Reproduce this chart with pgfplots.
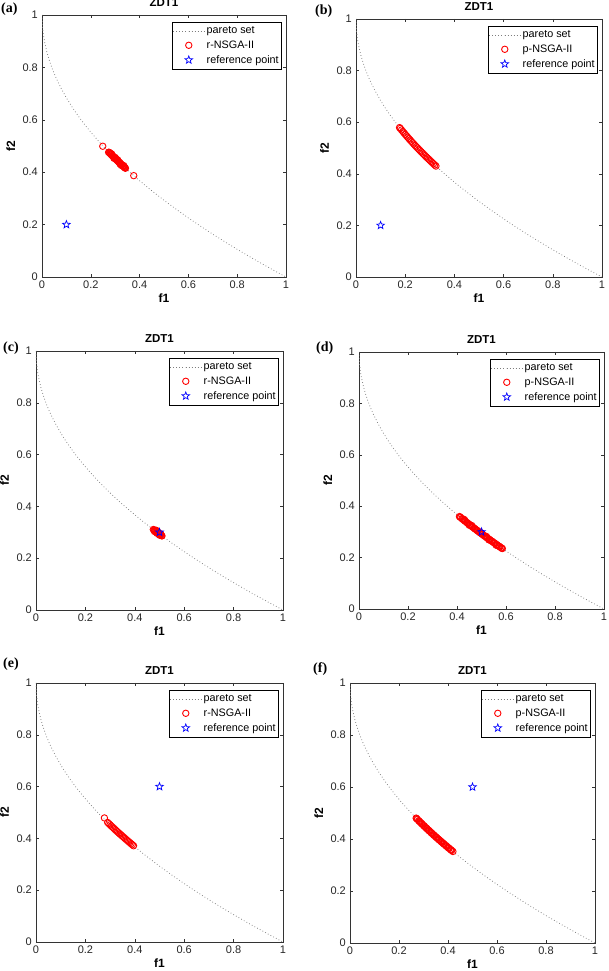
\documentclass[border=0pt]{standalone}
\usepackage{fontspec}
\setmainfont{Liberation Sans}
\newfontfamily\serifb{Liberation Serif}
\usepackage{pgfplots}
\usepackage{pgfplotstable}
\pgfplotsset{compat=1.18}

\definecolor{paretogray}{RGB}{125,125,125}

\pgfdeclareplotmark{pentagram}{%
  \pgfpathmoveto{\pgfpointpolar{90}{\pgfplotmarksize}}%
  \pgfpathlineto{\pgfpointpolar{126}{0.42\pgfplotmarksize}}%
  \pgfpathlineto{\pgfpointpolar{162}{\pgfplotmarksize}}%
  \pgfpathlineto{\pgfpointpolar{198}{0.42\pgfplotmarksize}}%
  \pgfpathlineto{\pgfpointpolar{234}{\pgfplotmarksize}}%
  \pgfpathlineto{\pgfpointpolar{270}{0.42\pgfplotmarksize}}%
  \pgfpathlineto{\pgfpointpolar{306}{\pgfplotmarksize}}%
  \pgfpathlineto{\pgfpointpolar{342}{0.42\pgfplotmarksize}}%
  \pgfpathlineto{\pgfpointpolar{18}{\pgfplotmarksize}}%
  \pgfpathlineto{\pgfpointpolar{54}{0.42\pgfplotmarksize}}%
  \pgfpathclose
  \pgfusepathqstroke
}

\pgfplotstableread{
x y
0 1
0.001 0.9684
0.0025 0.95
0.005 0.9293
0.01 0.9
0.02 0.8586
0.03 0.8268
0.04 0.8
0.05 0.7764
0.06 0.7551
0.08 0.7172
0.10 0.6838
0.12 0.6536
0.14 0.6258
0.16 0.6
0.18 0.5757
0.20 0.5528
0.22 0.5310
0.24 0.5101
0.26 0.4901
0.28 0.4708
0.30 0.4523
0.32 0.4343
0.34 0.4169
0.36 0.4
0.38 0.3836
0.40 0.3675
0.42 0.3519
0.44 0.3367
0.46 0.3218
0.48 0.3072
0.50 0.2929
0.55 0.2584
0.60 0.2254
0.65 0.1938
0.70 0.1633
0.75 0.1340
0.80 0.1056
0.85 0.0780
0.90 0.0513
0.95 0.0253
1.0 0
}\pareto

\pgfplotstableread{
x y
0.249 0.4990
0.376 0.3868
0.273 0.4760
0.275 0.4756
0.2775 0.4732
0.278 0.4735
0.28 0.4708
0.2825 0.4685
0.285 0.4661
0.285 0.4700
0.2875 0.4638
0.288 0.4640
0.29 0.4615
0.2925 0.4592
0.295 0.4569
0.295 0.4530
0.2975 0.4546
0.30 0.4523
0.30 0.4560
0.3025 0.4500
0.302 0.4510
0.305 0.4477
0.3075 0.4455
0.31 0.4432
0.31 0.4470
0.3125 0.4410
0.315 0.4388
0.3175 0.4366
0.318 0.4365
0.32 0.4343
0.32 0.4310
0.3225 0.4321
0.325 0.4299
0.325 0.4260
0.3275 0.4277
0.33 0.4255
0.3325 0.4234
0.332 0.4240
0.335 0.4212
0.335 0.4250
0.3375 0.4191
0.338 0.4185
0.34 0.4169
0.342 0.4150
}\dataA

\pgfplotstableread{
x y
0.177 0.5790
0.18 0.5757
0.185 0.5699
0.19 0.5641
0.195 0.5584
0.20 0.5528
0.205 0.5472
0.21 0.5417
0.215 0.5363
0.22 0.5310
0.225 0.5257
0.23 0.5204
0.235 0.5152
0.24 0.5101
0.245 0.5050
0.25 0.5
0.255 0.4950
0.26 0.4901
0.265 0.4852
0.27 0.4804
0.275 0.4756
0.28 0.4708
0.285 0.4661
0.29 0.4615
0.295 0.4569
0.30 0.4523
0.305 0.4477
0.31 0.4432
0.315 0.4388
0.32 0.4343
0.325 0.4299
}\dataB

\pgfplotstableread{
x y
0.475 0.3108
0.478 0.3090
0.48 0.3072
0.482 0.3060
0.485 0.3036
0.488 0.3020
0.49 0.3000
0.493 0.2980
0.495 0.2964
0.498 0.2945
0.50 0.2929
0.503 0.2910
0.505 0.2894
0.508 0.2875
0.51 0.2859
0.48 0.3030
0.486 0.3080
0.49 0.2960
0.50 0.2890
0.495 0.3000
0.505 0.2940
}\dataC

\pgfplotstableread{
x y
0.41 0.3597
0.4125 0.3578
0.415 0.3558
0.42 0.3519
0.4225 0.3500
0.425 0.3481
0.43 0.3443
0.43 0.3480
0.4325 0.3424
0.435 0.3405
0.44 0.3367
0.4425 0.3348
0.445 0.3329
0.45 0.3292
0.45 0.3260
0.4525 0.3274
0.455 0.3255
0.46 0.3218
0.46 0.3250
0.4625 0.3200
0.465 0.3181
0.47 0.3144
0.4725 0.3126
0.475 0.3108
0.48 0.3072
0.4825 0.3054
0.485 0.3036
0.49 0.3000
0.4925 0.2982
0.495 0.2964
0.50 0.2929
0.50 0.2960
0.5025 0.2912
0.505 0.2894
0.51 0.2859
0.5125 0.2842
0.515 0.2824
0.52 0.2789
0.52 0.2820
0.5225 0.2772
0.525 0.2754
0.53 0.2720
0.53 0.2690
0.5325 0.2703
0.535 0.2686
0.54 0.2652
0.5425 0.2635
0.545 0.2618
0.55 0.2584
0.5525 0.2567
0.555 0.2550
0.56 0.2517
0.56 0.2480
0.5625 0.2500
0.565 0.2483
0.57 0.2450
0.5725 0.2434
0.575 0.2417
0.58 0.2384
0.5825 0.2368
0.585 0.2352
}\dataD

\pgfplotstableread{
x y
0.277 0.4790
0.29 0.4615
0.295 0.4569
0.30 0.4523
0.305 0.4477
0.31 0.4432
0.315 0.4388
0.32 0.4343
0.325 0.4299
0.33 0.4255
0.335 0.4212
0.34 0.4169
0.345 0.4126
0.35 0.4084
0.355 0.4042
0.36 0.4000
0.365 0.3958
0.37 0.3917
0.375 0.3876
0.38 0.3836
0.385 0.3795
0.39 0.3755
0.395 0.3715
}\dataE

\pgfplotstableread{
x y
0.27 0.4804
0.2725 0.4780
0.275 0.4756
0.28 0.4708
0.2825 0.4685
0.285 0.4661
0.29 0.4615
0.2925 0.4592
0.295 0.4569
0.30 0.4523
0.3025 0.4500
0.305 0.4477
0.31 0.4432
0.3125 0.4410
0.315 0.4388
0.32 0.4343
0.3225 0.4321
0.325 0.4299
0.33 0.4255
0.3325 0.4234
0.335 0.4212
0.34 0.4169
0.3425 0.4148
0.345 0.4126
0.35 0.4084
0.3525 0.4063
0.355 0.4042
0.36 0.4000
0.3625 0.3979
0.365 0.3958
0.37 0.3917
0.3725 0.3897
0.375 0.3876
0.38 0.3836
0.3825 0.3816
0.385 0.3795
0.39 0.3755
0.3925 0.3735
0.395 0.3715
0.40 0.3675
0.4025 0.3656
0.405 0.3636
0.41 0.3597
0.4125 0.3578
0.415 0.3558
0.42 0.3519
}\dataF

\pgfplotsset{
  zdt/.style={
    scale only axis, anchor=south west,
    xmin=0, xmax=1, ymin=0, ymax=1,
    xtick={0,0.2,0.4,0.6,0.8,1}, ytick={0,0.2,0.4,0.6,0.8,1},
    tick align=inside, major tick length=3pt,
    axis line style={black!80, line width=0.6pt},
    every tick/.style={black!80, line width=0.5pt},
    /pgf/number format/assume math mode=true,
    ticklabel style={font=\fontsize{11}{13}\selectfont, text=black!85},
    xticklabel style={inner sep=0pt, yshift=-4pt},
    yticklabel style={inner sep=0pt, xshift=-4pt},
    title=ZDT1,
    title style={font=\bfseries\fontsize{11.5}{14}\selectfont, at={(axis description cs:0.5,1)}, anchor=base, inner sep=0pt, yshift=2pt},
    xlabel=f1, ylabel=f2,
    xlabel style={font=\bfseries\fontsize{12}{14}\selectfont, at={(axis description cs:0.5,0)}, anchor=base, inner sep=0pt, yshift=-26pt},
    ylabel style={font=\bfseries\fontsize{12}{14}\selectfont, at={(axis description cs:-0.11,0.5)}, anchor=base, inner sep=0pt},
    legend cell align=left,
    legend style={at={(axis description cs:1,1)}, anchor=north east, xshift=-4pt, yshift=-7pt,
      draw=black, line width=0.6pt, fill=white,
      font=\fontsize{10.8}{12}\selectfont,
      inner xsep=1pt, inner ysep=2.5pt, row sep=1.5pt},
    legend image code/.code={\draw[mark repeat=2,mark phase=2,##1] plot coordinates {(0pt,0pt) (15.5pt,0pt) (31pt,0pt)};},
  },
  pset/.style={paretogray, line width=0.75pt, dash pattern=on 0.75pt off 2.3pt},
  alg/.style={only marks, mark=o, mark size=3.2pt, red, mark options={line width=0.9pt}},
  refp/.style={only marks, mark=pentagram, mark size=4pt, blue, mark options={line width=0.7pt}},
}

\begin{document}
\begin{tikzpicture}
\useasboundingbox (0,0) rectangle (608pt,971pt);

% (a)
\begin{axis}[zdt, at={(42pt,694pt)}, width=244pt, height=262pt]
\addplot[pset] table {\pareto};
\addplot[alg] table {\dataA};
\addplot[refp] coordinates {(0.1,0.2)};
\legend{pareto set, r-NSGA-II, reference point}
\end{axis}

% (b)
\begin{axis}[zdt, at={(356pt,694pt)}, width=246pt, height=258pt]
\addplot[pset] table {\pareto};
\addplot[alg] table {\dataB};
\addplot[refp] coordinates {(0.1,0.2)};
\legend{pareto set, p-NSGA-II, reference point}
\end{axis}

% (c)
\begin{axis}[zdt, at={(36pt,361pt)}, width=247pt, height=259pt]
\addplot[pset] table {\pareto};
\addplot[alg] table {\dataC};
\addplot[refp] coordinates {(0.5,0.3)};
\legend{pareto set, r-NSGA-II, reference point}
\end{axis}

% (d)
\begin{axis}[zdt, at={(359pt,362pt)}, width=245pt, height=257pt]
\addplot[pset] table {\pareto};
\addplot[alg] table {\dataD};
\addplot[refp] coordinates {(0.5,0.3)};
\legend{pareto set, p-NSGA-II, reference point}
\end{axis}

% (e)
\begin{axis}[zdt, at={(36pt,29pt)}, width=247pt, height=259pt]
\addplot[pset] table {\pareto};
\addplot[alg] table {\dataE};
\addplot[refp] coordinates {(0.5,0.6)};
\legend{pareto set, r-NSGA-II, reference point}
\end{axis}

% (f)
\begin{axis}[zdt, at={(350pt,28pt)}, width=245pt, height=260pt]
\addplot[pset] table {\pareto};
\addplot[alg] table {\dataF};
\addplot[refp] coordinates {(0.5,0.6)};
\legend{pareto set, p-NSGA-II, reference point}
\end{axis}

\begin{scope}[every node/.style={anchor=north west, inner sep=0pt, font=\serifb\bfseries\fontsize{14}{16}\selectfont}]
\node at (1pt,968pt) {(a)};
\node at (315pt,966pt) {(b)};
\node at (3pt,629pt) {(c)};
\node at (316pt,629pt) {(d)};
\node at (3pt,313pt) {(e)};
\node at (313pt,309pt) {(f)};
\end{scope}
\end{tikzpicture}
\end{document}
